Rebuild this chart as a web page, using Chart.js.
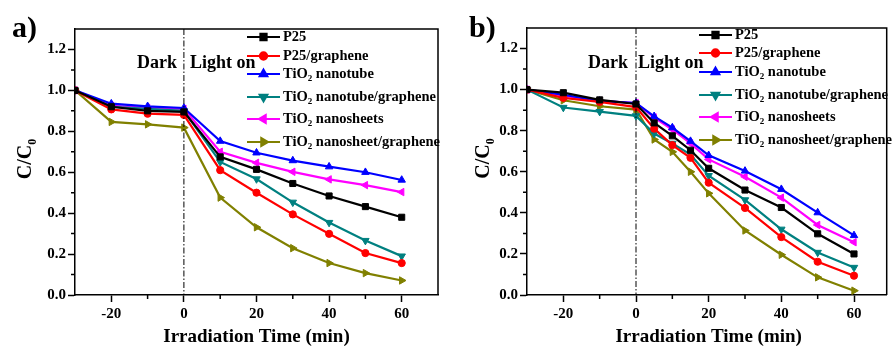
<!doctype html>
<html>
<head>
<meta charset="utf-8">
<title>C/C0 vs irradiation time</title>
<script src="https://cdn.jsdelivr.net/npm/chart.js@4.4.1/dist/chart.umd.min.js"></script>
<style>
  html,body{margin:0;padding:0;background:#fff;overflow:hidden;}
  .panel{position:absolute;top:0;width:446px;height:346px;}
  #pa{left:0;} #pb{left:446px;}
</style>
</head>
<body>
<div class="panel" id="pa"><canvas id="chartA" width="446" height="346"></canvas></div>
<div class="panel" id="pb"><canvas id="chartB" width="446" height="346"></canvas></div>
<script>
const FONT = '"Liberation Serif","Times New Roman",serif';

// series (same order in both panels)
const names   = ['P25', 'P25/graphene', 'TiO2 nanotube', 'TiO2 nanotube/graphene', 'TiO2 nanosheets', 'TiO2 nanosheet/graphene'];
const colors  = ['#000000', '#ff0000', '#0000ff', '#008080', '#ff00ff', '#808000'];
const markers = ['rect', 'circle', 'triangle', 'triangle', 'triangle', 'triangle'];
const markerRot = [0, 0, 0, 180, -90, 90];

// panel a)
const timeA    = [-30, -20, -10, 0, 10, 20, 30, 40, 50, 60];
const p25A     = [1.0, 0.92, 0.90, 0.895, 0.675, 0.614, 0.545, 0.484, 0.432, 0.38];
const p25GrA   = [1.0, 0.907, 0.886, 0.88, 0.61, 0.50, 0.394, 0.299, 0.205, 0.156];
const tubeA    = [1.0, 0.935, 0.922, 0.914, 0.752, 0.695, 0.657, 0.627, 0.60, 0.562];
const tubeGrA  = [1.0, 0.92, 0.91, 0.90, 0.65, 0.567, 0.453, 0.354, 0.266, 0.19];
const sheetA   = [1.0, 0.925, 0.915, 0.91, 0.70, 0.646, 0.602, 0.565, 0.537, 0.503];
const sheetGrA = [1.0, 0.846, 0.834, 0.818, 0.476, 0.331, 0.229, 0.156, 0.107, 0.071];

// panel b)
const timeB    = [-30, -20, -10, 0, 5, 10, 15, 20, 30, 40, 50, 60];
const p25B     = [1.0, 0.985, 0.95, 0.93, 0.838, 0.775, 0.705, 0.617, 0.511, 0.426, 0.298, 0.20];
const p25GrB   = [1.0, 0.96, 0.94, 0.915, 0.81, 0.73, 0.668, 0.547, 0.424, 0.282, 0.162, 0.094];
const tubeB    = [1.0, 0.975, 0.945, 0.935, 0.87, 0.815, 0.749, 0.68, 0.604, 0.515, 0.401, 0.29];
const tubeGrB  = [1.0, 0.913, 0.893, 0.872, 0.786, 0.738, 0.684, 0.581, 0.463, 0.32, 0.207, 0.134];
const sheetB   = [1.0, 0.97, 0.945, 0.935, 0.864, 0.806, 0.738, 0.66, 0.576, 0.474, 0.341, 0.257];
const sheetGrB = [1.0, 0.948, 0.919, 0.903, 0.757, 0.697, 0.60, 0.495, 0.314, 0.196, 0.086, 0.021];

const xMajor = [-20, 0, 20, 40, 60];

function makeDatasets(times, seriesList) {
  return seriesList.map((vals, i) => ({
    label: names[i],
    data: times.map((t, k) => ({x: t, y: vals[k]})),
    borderColor: colors[i],
    backgroundColor: colors[i],
    borderWidth: 2.2,
    pointStyle: markers[i],
    rotation: markerRot[i],
    pointRadius: markers[i] === 'circle' ? 3.6 : 4.3,
    pointBorderWidth: 1,
    tension: 0
  }));
}

// draws a label, turning "TiO2" into TiO with a subscript 2
function richText(ctx, text, x, y, size) {
  const parts = text.split('TiO2');
  let cx = x;
  parts.forEach((p, idx) => {
    if (idx > 0) {
      ctx.font = 'bold ' + size + 'px ' + FONT;
      ctx.fillText('TiO', cx, y); cx += ctx.measureText('TiO').width;
      ctx.font = 'bold ' + Math.round(size * 0.62) + 'px ' + FONT;
      ctx.fillText('2', cx, y + size * 0.3); cx += ctx.measureText('2').width;
    }
    ctx.font = 'bold ' + size + 'px ' + FONT;
    ctx.fillText(p, cx, y); cx += ctx.measureText(p).width;
  });
}

const deco = {
  id: 'deco',
  afterDraw(chart, args, o) {
    const {ctx, chartArea: ca, scales: {x, y}} = chart;
    ctx.save();
    ctx.strokeStyle = '#000'; ctx.fillStyle = '#000';

    // top and right frame
    ctx.lineWidth = 1.5;
    ctx.beginPath();
    ctx.moveTo(ca.left, ca.top); ctx.lineTo(ca.right, ca.top); ctx.lineTo(ca.right, ca.bottom);
    ctx.stroke();

    // minor ticks
    ctx.beginPath();
    [-10, 10, 30, 50].forEach(v => {
      const px = x.getPixelForValue(v);
      ctx.moveTo(px, ca.bottom); ctx.lineTo(px, ca.bottom + 4);
    });
    for (let k = 1; k <= 11; k += 2) {
      const py = y.getPixelForValue(k / 10);
      ctx.moveTo(ca.left, py); ctx.lineTo(ca.left - 4, py);
    }
    ctx.stroke();

    // dark / light boundary
    const x0 = x.getPixelForValue(0);
    ctx.lineWidth = 1;
    ctx.setLineDash([6, 2, 1.5, 2]);
    ctx.beginPath(); ctx.moveTo(x0, ca.top); ctx.lineTo(x0, ca.bottom); ctx.stroke();
    ctx.setLineDash([]);

    ctx.font = 'bold 18px ' + FONT;
    ctx.textBaseline = 'alphabetic';
    ctx.textAlign = 'right'; ctx.fillText('Dark', x0 - o.darkGap, 68);
    ctx.textAlign = 'left';  ctx.fillText('Light on', x0 + o.lightGap, 68);

    // legend
    ctx.textBaseline = 'middle';
    names.forEach((n, i) => {
      const ly = o.legY[i];
      ctx.strokeStyle = colors[i]; ctx.fillStyle = colors[i]; ctx.lineWidth = 2.2;
      ctx.beginPath(); ctx.moveTo(o.legX, ly); ctx.lineTo(o.legX + 33, ly); ctx.stroke();
      Chart.helpers.drawPoint(ctx, {pointStyle: markers[i], rotation: markerRot[i],
        radius: markers[i] === 'circle' ? 3.6 : 4.3, borderWidth: 1}, o.legX + 16.5, ly);
      ctx.fillStyle = '#000';
      richText(ctx, n, o.legX + 36, ly, 14.5);
    });

    // x title
    ctx.fillStyle = '#000';
    ctx.textAlign = 'center'; ctx.textBaseline = 'alphabetic';
    ctx.font = 'bold 19px ' + FONT;
    ctx.fillText('Irradiation Time (min)', x.getPixelForValue(20), 342);

    // y title C/C0 (rotated)
    ctx.save();
    ctx.translate(o.yTitleX, (ca.top + ca.bottom) / 2 - 3);
    ctx.rotate(-Math.PI / 2);
    ctx.font = 'bold 20px ' + FONT;
    const w1 = ctx.measureText('C/C').width;
    ctx.font = 'bold 12px ' + FONT;
    const w2 = ctx.measureText('0').width;
    ctx.textAlign = 'left';
    ctx.font = 'bold 20px ' + FONT;
    ctx.fillText('C/C', -(w1 + w2) / 2, 0);
    ctx.font = 'bold 12px ' + FONT;
    ctx.fillText('0', -(w1 + w2) / 2 + w1, 5);
    ctx.restore();

    // panel label
    ctx.textAlign = 'left';
    ctx.font = 'bold 30px ' + FONT;
    ctx.fillText(o.panel, o.panelX, 37);

    ctx.restore();
  }
};

function makeChart(id, datasets, xMax, leftW, rightPad, o) {
  const tickFont = {family: FONT, size: 15, weight: 'bold'};
  return new Chart(document.getElementById(id), {
    type: 'line',
    data: {datasets},
    plugins: [deco],
    options: {
      responsive: false,
      animation: false,
      layout: {padding: {top: o.top, right: rightPad, left: 0, bottom: 0}},
      plugins: {legend: {display: false}, tooltip: {enabled: false}, deco: o},
      scales: {
        x: {
          type: 'linear', min: -30, max: xMax,
          afterFit(s) { s.height = 51; },
          ticks: {stepSize: 10, autoSkip: false, maxRotation: 0, padding: 3, color: '#000', font: tickFont,
            callback: v => xMajor.includes(v) ? String(v) : ''},
          grid: {drawOnChartArea: false, tickLength: 7, tickWidth: 1.5,
            tickColor: c => (c.tick && xMajor.includes(c.tick.value)) ? '#000' : 'rgba(0,0,0,0)'},
          border: {color: '#000', width: 1.5}
        },
        y: {
          min: 0, max: 1.3,
          afterFit(s) { s.width = leftW; },
          ticks: {stepSize: 0.1, autoSkip: false, padding: 2, color: '#000', font: tickFont,
            callback: v => { const k = Math.round(v * 10); return (k % 2 === 0 && k <= 12) ? (k / 10).toFixed(1) : ''; }},
          grid: {drawOnChartArea: false, tickLength: 7, tickWidth: 1.5,
            tickColor: c => { const k = Math.round(c.tick.value * 10); return (k % 2 === 0 && k <= 12) ? '#000' : 'rgba(0,0,0,0)'; }},
          border: {color: '#000', width: 1.5}
        }
      }
    }
  });
}

makeChart('chartA', makeDatasets(timeA, [p25A, p25GrA, tubeA, tubeGrA, sheetA, sheetGrA]), 70, 75, 8,
  {top: 29, panel: 'a)', panelX: 12, yTitleX: 31, darkGap: 7, lightGap: 6,
   legX: 247, legY: [37, 56, 74, 97, 119, 142]});

makeChart('chartB', makeDatasets(timeB, [p25B, p25GrB, tubeB, tubeGrB, sheetB, sheetGrB]), 69, 81, 2,
  {top: 28, panel: 'b)', panelX: 23, yTitleX: 43, darkGap: 8, lightGap: 2,
   legX: 253, legY: [35, 53, 72, 95, 117, 140]});
</script>
</body>
</html>
